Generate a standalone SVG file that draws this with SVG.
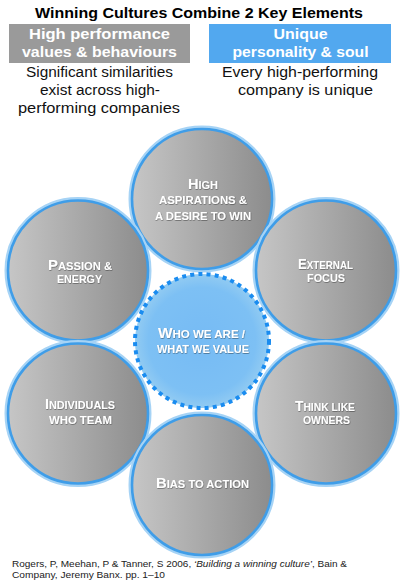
<svg xmlns="http://www.w3.org/2000/svg" width="401" height="584" viewBox="0 0 401 584">
<defs>
<linearGradient id="gray" x1="0" y1="0" x2="1" y2="0">
<stop offset="0" stop-color="#c6c6c6"/>
<stop offset="1" stop-color="#8c8c8c"/>
</linearGradient>
<radialGradient id="blue" cx="0.5" cy="0.5" r="0.5">
<stop offset="0" stop-color="#76bbf4"/>
<stop offset="0.8" stop-color="#7dc0f4"/>
<stop offset="1" stop-color="#92cbf2"/>
</radialGradient>
<filter id="sh" x="-10%" y="-30%" width="120%" height="160%">
<feDropShadow dx="0.4" dy="0.6" stdDeviation="0.5" flood-color="#000" flood-opacity="0.55"/>
</filter>
</defs>
<style>
.glow{fill:none;stroke:#a6d3f5;stroke-width:5}
.ring{fill:url(#gray);stroke:#3f9de8;stroke-width:2.6}
.lbl{font-family:"Liberation Sans",Arial,sans-serif;font-weight:bold;font-size:10.5px;fill:#fff;text-anchor:middle;filter:url(#sh)}
.cap{font-size:14px}
.hd{font-family:"Liberation Sans",Arial,sans-serif;font-weight:bold;text-anchor:middle}
.sub{font-family:"Liberation Sans",Arial,sans-serif;font-size:14px;fill:#111;text-anchor:middle}
.ref{font-family:"Liberation Sans",Arial,sans-serif;font-size:9px;fill:#222}
</style>
<rect width="401" height="584" fill="#fff"/>

<g id="header">
<text class="hd" x="199" y="18" font-size="15.5" fill="#000" textLength="328" lengthAdjust="spacingAndGlyphs">Winning Cultures Combine 2 Key Elements</text>
</g>

<g id="box-high-performance">
<rect x="9" y="24" width="181" height="39" fill="#9a9a9a"/>
<text class="hd" x="99.5" y="38.5" font-size="15" fill="#fff" textLength="141" lengthAdjust="spacingAndGlyphs">High performance</text>
<text class="hd" x="99.5" y="57" font-size="15" fill="#fff" textLength="155" lengthAdjust="spacingAndGlyphs">values &amp; behaviours</text>
<text class="sub" x="99.5" y="77" textLength="147" lengthAdjust="spacingAndGlyphs">Significant similarities</text>
<text class="sub" x="100" y="95" textLength="120" lengthAdjust="spacingAndGlyphs">exist across high-</text>
<text class="sub" x="99" y="113" textLength="162" lengthAdjust="spacingAndGlyphs">performing companies</text>
</g>

<g id="box-unique">
<rect x="209" y="24" width="182" height="39" fill="#52a8ef"/>
<text class="hd" x="300.5" y="38.5" font-size="15" fill="#fff" textLength="54" lengthAdjust="spacingAndGlyphs">Unique</text>
<text class="hd" x="300.5" y="57" font-size="15" fill="#fff" textLength="136" lengthAdjust="spacingAndGlyphs">personality &amp; soul</text>
<text class="sub" x="300" y="77" textLength="156" lengthAdjust="spacingAndGlyphs">Every high-performing</text>
<text class="sub" x="305.5" y="95" textLength="135" lengthAdjust="spacingAndGlyphs">company is unique</text>
</g>

<g id="node-high-aspirations">
<circle class="glow" cx="202" cy="199" r="71"/>
<circle class="ring" cx="202" cy="199" r="70"/>
<text class="lbl" x="203" y="188.5" textLength="30" lengthAdjust="spacingAndGlyphs"><tspan class="cap">H</tspan>IGH</text>
<text class="lbl" x="203" y="204" textLength="88" lengthAdjust="spacingAndGlyphs">ASPIRATIONS &amp;</text>
<text class="lbl" x="203" y="220" textLength="96" lengthAdjust="spacingAndGlyphs">A DESIRE TO WIN</text>
</g>

<g id="node-passion">
<circle class="glow" cx="78" cy="270.5" r="71"/>
<circle class="ring" cx="78" cy="270.5" r="70"/>
<text class="lbl" x="80" y="270" textLength="64" lengthAdjust="spacingAndGlyphs"><tspan class="cap">P</tspan>ASSION &amp;</text>
<text class="lbl" x="79.5" y="283" textLength="45" lengthAdjust="spacingAndGlyphs">ENERGY</text>
</g>

<g id="node-external">
<circle class="glow" cx="326" cy="270.5" r="71"/>
<circle class="ring" cx="326" cy="270.5" r="70"/>
<text class="lbl" x="325.5" y="269" textLength="55" lengthAdjust="spacingAndGlyphs"><tspan class="cap">E</tspan>XTERNAL</text>
<text class="lbl" x="326" y="282" textLength="38" lengthAdjust="spacingAndGlyphs">FOCUS</text>
</g>

<g id="node-individuals">
<circle class="glow" cx="78" cy="413.5" r="71"/>
<circle class="ring" cx="78" cy="413.5" r="70"/>
<text class="lbl" x="80" y="409" textLength="70" lengthAdjust="spacingAndGlyphs"><tspan class="cap">I</tspan>NDIVIDUALS</text>
<text class="lbl" x="80.5" y="424" textLength="63" lengthAdjust="spacingAndGlyphs">WHO TEAM</text>
</g>

<g id="node-owners">
<circle class="glow" cx="326" cy="413.5" r="71"/>
<circle class="ring" cx="326" cy="413.5" r="70"/>
<text class="lbl" x="325" y="411" textLength="60" lengthAdjust="spacingAndGlyphs"><tspan class="cap">T</tspan>HINK LIKE</text>
<text class="lbl" x="326.5" y="423.5" textLength="47" lengthAdjust="spacingAndGlyphs">OWNERS</text>
</g>

<g id="node-bias">
<circle class="glow" cx="202" cy="485" r="71"/>
<circle class="ring" cx="202" cy="485" r="70"/>
<text class="lbl" x="202.5" y="488" textLength="93" lengthAdjust="spacingAndGlyphs"><tspan class="cap">B</tspan>IAS TO ACTION</text>
</g>

<g id="node-center">
<circle cx="202" cy="341" r="67" fill="url(#blue)"/>
<circle cx="202" cy="341" r="67" fill="none" stroke="#1a8cf0" stroke-width="4" stroke-dasharray="4 4.2"/>
<text class="lbl" x="201.5" y="338" textLength="87" lengthAdjust="spacingAndGlyphs"><tspan class="cap">W</tspan>HO WE ARE /</text>
<text class="lbl" x="203" y="353" textLength="92" lengthAdjust="spacingAndGlyphs">WHAT WE VALUE</text>
</g>

<g id="connectors"/>

<g id="reference">
<text class="ref" x="12" y="567" textLength="335" lengthAdjust="spacingAndGlyphs">Rogers, P, Meehan, P &amp; Tanner, S 2006, <tspan font-style="italic">‘Building a winning culture’</tspan>, Bain &amp;</text>
<text class="ref" x="12" y="577.5" textLength="153" lengthAdjust="spacingAndGlyphs">Company, Jeremy Banx. pp. 1–10</text>
</g>
</svg>
